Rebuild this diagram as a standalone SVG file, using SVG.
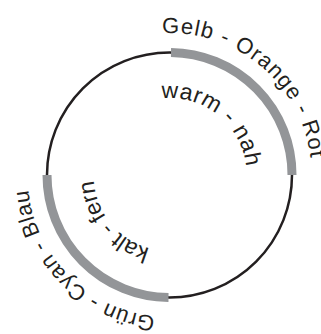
<svg xmlns="http://www.w3.org/2000/svg" xmlns:xlink="http://www.w3.org/1999/xlink" width="321" height="334" viewBox="0 0 321 334">
<style>
.ring{fill:none;stroke:#231f20;stroke-width:2.5}
.band{fill:none;stroke:#939598;stroke-width:9;stroke-linecap:butt}
.lbl{font-family:"Liberation Sans",Arial,sans-serif;fill:#231f20}
.outer{font-size:22px}
.inner{font-size:23px}
</style>
<defs>
<path id="pOuterTop" d="M 162.1 33.2 A 142 142 0 0 1 240.5 298"/>
<path id="pInnerTop" d="M 161.45 98.42 A 77 77 0 0 1 208 241.7"/>
<path id="pOuterBL" d="M 155.25 316.3 A 142 142 0 0 1 98.5 52"/>
<path id="pInnerBL" d="M 149.8 248.4 A 76 76 0 0 1 131.5 109.2"/>
</defs>
<rect width="321" height="334" fill="#ffffff"/>
<g id="wheel">
<circle class="ring" cx="169.5" cy="175" r="122.5"/>
</g>
<g id="warm-arc">
<path class="band" d="M 171 52.5 A 122.5 122.5 0 0 1 292 175"/>
<text class="lbl outer" style="letter-spacing:1.1px"><textPath xlink:href="#pOuterTop" href="#pOuterTop">Gelb - Orange - Rot</textPath></text>
<text class="lbl inner" style="letter-spacing:0.6px"><textPath xlink:href="#pInnerTop" href="#pInnerTop">warm - nah</textPath></text>
</g>
<g id="cold-arc">
<path class="band" d="M 47 175 A 122.5 122.5 0 0 0 168.5 297.5"/>
<text class="lbl outer" style="letter-spacing:0.6px"><textPath xlink:href="#pOuterBL" href="#pOuterBL">Grün - Cyan - Blau</textPath></text>
<text class="lbl inner" style="letter-spacing:-0.2px"><textPath xlink:href="#pInnerBL" href="#pInnerBL">kalt - fern</textPath></text>
</g>
<g id="connectors"></g>
</svg>
